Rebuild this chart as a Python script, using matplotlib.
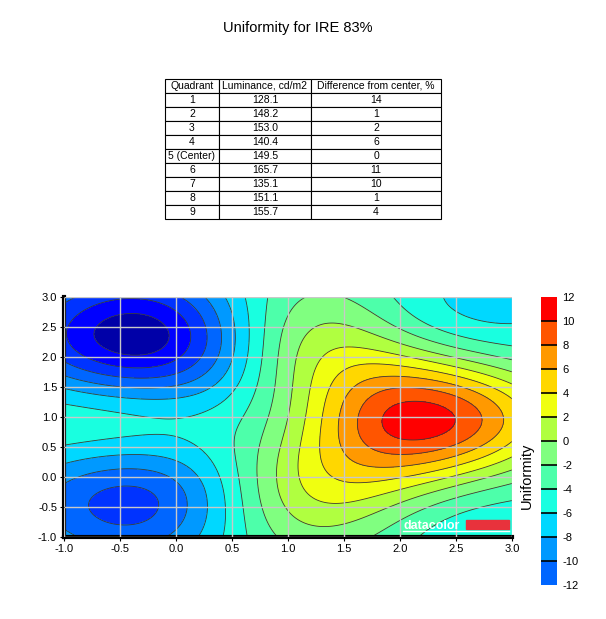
import matplotlib
matplotlib.use("Agg")
import matplotlib.pyplot as plt
import matplotlib as mpl
import numpy as np
from matplotlib.colors import ListedColormap, BoundaryNorm
from matplotlib.patches import Rectangle

plt.rcParams["font.family"] = ["Liberation Sans", "DejaVu Sans"]
plt.rcParams["axes.unicode_minus"] = False

# table data
quadrants = ["1", "2", "3", "4", "5 (Center)", "6", "7", "8", "9"]
luminance = [128.1, 148.2, 153.0, 140.4, 149.5, 165.7, 135.1, 151.1, 155.7]
difference = [14, 1, 2, 6, 0, 11, 10, 1, 4]
col_labels = ["Quadrant", "Luminance, cd/m2", "Difference from center, %"]

# quadrant positions on the map (row major, top row first)
grid_x = [0.0, 1.0, 2.0]
grid_y = [2.0, 1.0, 0.0]

levels = np.arange(-16, 13, 2)
band_colors = ["#0000ff", "#0033ff", "#0066ff", "#0099ff", "#00d8ff", "#19ffe0", "#4dffaa",
               "#80ff80", "#b0ff40", "#f0ff10", "#ffd700", "#ff9900", "#ff5500", "#ff0000"]
cb_levels = np.arange(-12, 13, 2)


def gauss_rbf(px, py, v, gx, gy, s=1.3):
    # gaussian radial basis interpolation around a constant level
    def phi(dx, dy):
        return np.exp(-(dx ** 2 + dy ** 2) / s ** 2)
    n = len(v)
    M = np.zeros((n + 1, n + 1))
    M[:n, :n] = phi(px[:, None] - px[None, :], py[:, None] - py[None, :])
    M[:n, n] = 1
    M[n, :n] = 1
    sol = np.linalg.solve(M, np.concatenate([v, [0]]))
    return phi(gx[..., None] - px, gy[..., None] - py) @ sol[:n] + sol[n]


lum = np.array(luminance)
uniformity = (lum - lum[4]) / lum[4] * 100
px = np.tile(grid_x, 3)
py = np.repeat(grid_y, 3)
gx, gy = np.meshgrid(np.linspace(-1, 3, 300), np.linspace(-1, 3, 300))
Z = gauss_rbf(px, py, uniformity, gx, gy)

fig = plt.figure(figsize=(6.06, 6.19), dpi=100)
fig.text(0.492, 0.955, "Uniformity for IRE 83%", ha="center", va="center", fontsize=10.5)

# table
tax = fig.add_axes([165 / 606, 1 - 219 / 619, 276 / 606, 140 / 619])
tax.axis("off")
rows = [[q, f"{l:.1f}", str(d)] for q, l, d in zip(quadrants, luminance, difference)]
tbl = tax.table(cellText=rows, colLabels=col_labels, bbox=[0, 0, 1, 1],
                colWidths=[54, 92, 130], cellLoc="center")
tbl.auto_set_font_size(False)
for cell in tbl.get_celld().values():
    cell.set_fontsize(7.5)
    cell.set_linewidth(0.8)
    cell.PAD = 0.02

# contour map
cmap = ListedColormap(band_colors)
cmap.set_under("#0000a8")
cmap.set_over("#a00000")
norm = BoundaryNorm(levels, cmap.N)

ax = fig.add_axes([64 / 606, 1 - 537 / 619, 448 / 606, 240 / 619])
ax.contourf(gx, gy, Z, levels=levels, cmap=cmap, norm=norm, extend="both")
ax.contour(gx, gy, Z, levels=levels, colors="#3a3a3a", linewidths=0.6, linestyles="solid")
ax.set_xlim(-1, 3)
ax.set_ylim(-1, 3)
ticks = np.arange(-1, 3.01, 0.5)
ax.set_xticks(ticks)
ax.set_yticks(ticks)
ax.set_xticklabels([f"{t:.1f}" for t in ticks])
ax.set_yticklabels([f"{t:.1f}" for t in ticks])
ax.grid(True, color="#c8c8c8", linewidth=1.0)
ax.set_axisbelow(False)
for side in ["top", "right"]:
    ax.spines[side].set_visible(False)
for side in ["left", "bottom"]:
    ax.spines[side].set_linewidth(3)
ax.tick_params(labelsize=8, length=3, width=0.8, direction="out", pad=2)

# watermark
ax.text(2.03, -0.86, "datacolor", color="white", fontsize=9, fontweight="bold",
        ha="left", va="baseline", zorder=5)
ax.add_patch(Rectangle((2.59, -0.87), 0.38, 0.16, color="#e8323c", zorder=5))
ax.plot([2.03, 2.97], [-0.9, -0.9], color="white", lw=1, zorder=5)

# colorbar
cax = fig.add_axes([541 / 606, 1 - 585 / 619, 16 / 606, 288 / 619])
cb_cmap = ListedColormap(band_colors[2:])
sm = mpl.cm.ScalarMappable(norm=BoundaryNorm(cb_levels, cb_cmap.N), cmap=cb_cmap)
cb = fig.colorbar(sm, cax=cax, ticks=cb_levels, drawedges=True)
cb.outline.set_visible(False)
cb.dividers.set_color("black")
cb.dividers.set_linewidth(1.2)
cax.tick_params(labelsize=8, length=0, pad=4)
fig.text(0.869, 0.232, "Uniformity", rotation=90, ha="center", va="center", fontsize=10.5)

fig.savefig("out.png")
